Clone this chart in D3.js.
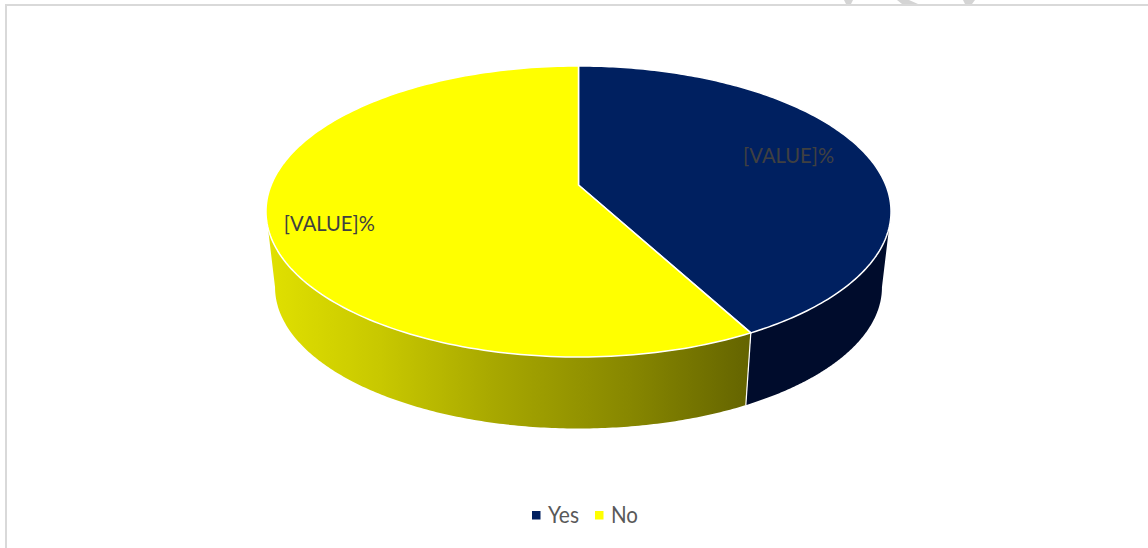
<!DOCTYPE html>
<html>
<head>
<meta charset="utf-8">
<script src="https://cdn.jsdelivr.net/npm/d3@7"></script>
<style>
  html, body { margin: 0; padding: 0; background: #fff; overflow: hidden; }
  svg { display: block; }
  text { font-family: Lato, "Open Sans", sans-serif; }
</style>
</head>
<body>
<svg id="chart" width="1148" height="548"></svg>
<script>
// Survey answers
const categories = ["Yes", "No"];
const shares = [42.2, 57.8];
const labelTemplate = "[VALUE]%";

const topColors = ["#002060", "#ffff00"];
const labelColor = "#404040";
const legendColor = "#595959";

const svg = d3.select("#chart");

// Perspective used for the tilted disc: u runs left-right, v back-to-front.
const view = { cx: 578.5, apexY: 185, a: 307.3, b: 140.7, k: 0.182 };
const floor = { scale: 0.971, apexY: 261.5 };

function project(theta, r, level) {
  const u = r * Math.sin(theta), v = -r * Math.cos(theta);
  const w = 1 - view.k * v;
  const s = level ? level.scale : 1;
  const y0 = level ? level.apexY : view.apexY;
  return [view.cx + s * view.a * u / w, y0 + s * view.b * v / w];
}

const slices = d3.pie().sort(null).value(d => d)(shares);
const line = d3.line();
const rim = (a, b, r, level) =>
  d3.range(0, 1.0001, 1 / 180).map(t => project(a + (b - a) * t, r, level));

// Frame of the chart area, open on the right and at the bottom
svg.append("path")
  .attr("d", "M6 548V5H1148")
  .attr("fill", "none").attr("stroke", "#d9d9d9").attr("stroke-width", 2);

// Bits of the page decoration showing above the frame
svg.append("g").attr("fill", "#d4d4d4").selectAll("path")
  .data(["M844 0H853L851 4H846Z", "M897 0H909L918 4H902Z", "M963 0H975L972 4H965Z"])
  .join("path").attr("d", d => d);

// Side wall shading
const defs = svg.append("defs");
const wall = defs.append("linearGradient").attr("id", "wallNo")
  .attr("gradientUnits", "userSpaceOnUse")
  .attr("x1", 270).attr("x2", 750).attr("y1", 0).attr("y2", 0);
[[0, "#e0e000"], [0.23, "#c8c800"], [0.48, "#a6a600"], [0.75, "#878700"], [1, "#646400"]]
  .forEach(([o, c]) => wall.append("stop").attr("offset", o).attr("stop-color", c));

const wallFill = ["#000c2c", "url(#wallNo)"];

// The walls end where the rim turns away from the viewer
const tangent = Math.acos(view.k);
const wallEnds = [Math.PI - tangent, Math.PI + tangent];

svg.append("g").selectAll("path").data(slices).join("path")
  .attr("d", (d, i) => {
    const a = i === 0 ? wallEnds[0] : d.startAngle;
    const b = i === 0 ? d.endAngle : wallEnds[1];
    return line(rim(a, b, 1).concat(rim(b, a, 1, floor))) + "Z";
  })
  .attr("fill", (d, i) => wallFill[i]);

// Seam between the two walls
const seamAngle = slices[1].startAngle;
svg.append("path")
  .attr("d", line([project(seamAngle, 1), project(seamAngle, 1, floor)]))
  .attr("stroke", "#fff").attr("stroke-width", 1.2).attr("fill", "none");

// Top faces
svg.append("g").selectAll("path").data(slices).join("path")
  .attr("d", d => line([project(0, 0)].concat(rim(d.startAngle, d.endAngle, 1))) + "Z")
  .attr("fill", (d, i) => topColors[i])
  .attr("stroke", "#fff").attr("stroke-width", 1.5).attr("stroke-linejoin", "round");

// Data labels
const labelOffset = [[2, -7], [-2, 9]];
svg.append("g").selectAll("text").data(slices).join("text")
  .attr("x", (d, i) => project((d.startAngle + d.endAngle) / 2, i ? 0.8 : 0.72)[0] + labelOffset[i][0])
  .attr("y", (d, i) => project((d.startAngle + d.endAngle) / 2, i ? 0.8 : 0.72)[1] + labelOffset[i][1])
  .attr("text-anchor", "middle").attr("dominant-baseline", "central")
  .attr("font-size", 22).attr("fill", labelColor)
  .attr("textLength", 91).attr("lengthAdjust", "spacingAndGlyphs")
  .text(labelTemplate);

// Legend
const legendX = d3.scalePoint().domain(categories).range([532, 595]);
const legend = svg.append("g").selectAll("g").data(categories).join("g")
  .attr("transform", d => `translate(${legendX(d)},511)`);
legend.append("rect").attr("width", 8.5).attr("height", 8.5)
  .attr("fill", (d, i) => topColors[i]);
legend.append("text")
  .attr("x", 16).attr("y", 3).attr("dominant-baseline", "central")
  .attr("font-size", 23).attr("fill", legendColor)
  .attr("textLength", (d, i) => [31, 27][i]).attr("lengthAdjust", "spacingAndGlyphs")
  .text(d => d);
</script>
</body>
</html>
